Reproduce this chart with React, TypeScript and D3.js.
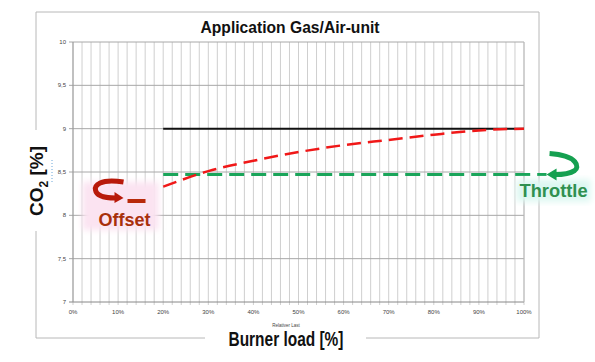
import React from 'react';
import * as d3 from 'd3';

// burner load [%] and CO2 [%]
const xTicks = [0, 10, 20, 30, 40, 50, 60, 70, 80, 90, 100];
const yTicks = [7, 7.5, 8, 8.5, 9, 9.5, 10];
const yTickLabels = ['7', '7,5', '8', '8,5', '9', '9,5', '10'];

const referenceLoad = [20, 100];
const referenceCO2 = [9.0, 9.0];

const offsetLoad = [20, 30, 40, 50, 60, 70, 80, 90, 100];
const offsetCO2 = [8.33, 8.51, 8.63, 8.73, 8.81, 8.87, 8.93, 8.98, 9.0];

const throttleLoad = [20, 105];
const throttleCO2 = [8.47, 8.47];

const W = 595;
const H = 362;

export default function App() {
  const x = d3.scaleLinear().domain([0, 100]).range([73, 524]);
  const y = d3.scaleLinear().domain([7, 10]).range([302, 42]);

  const minorX = d3.range(0, 101, 2);
  const line = d3.line<[number, number]>()
    .x(d => x(d[0]))
    .y(d => y(d[1]));
  const curve = d3.line<[number, number]>()
    .x(d => x(d[0]))
    .y(d => y(d[1]))
    .curve(d3.curveMonotoneX);

  const pair = (a: number[], b: number[]) => a.map((v, i) => [v, b[i]] as [number, number]);

  const font = 'Arial, "Liberation Sans", sans-serif';

  // annotation anchors from the scales
  const ox = x(1);
  const oy = y(8.35);
  const tx = x(105);
  const ty = y(8.47);

  return (
    <svg width={W} height={H} style={{ position: 'absolute', left: 0, top: 0, background: '#fff' }}>
      <defs>
        <filter id="soft" x="-20%" y="-20%" width="140%" height="140%">
          <feGaussianBlur stdDeviation="3" />
        </filter>
      </defs>
      <rect width={W} height={H} fill="#fff" />

      {/* outer frame, broken by the axis titles */}
      <path
        d="M36,130 V12 H539 V338 H366 M205,338 H36 V231"
        fill="none" stroke="#b8b8b8" strokeWidth={1}
      />

      {/* vertical grid */}
      {minorX.map(v => (
        <line key={'vx' + v} x1={x(v)} x2={x(v)} y1={y(10)} y2={y(7) + 3}
          stroke="#cfcfcf" strokeWidth={1} />
      ))}
      {/* horizontal grid */}
      {yTicks.map(v => (
        <line key={'hy' + v} x1={x(0) - 4} x2={x(100)} y1={y(v)} y2={y(v)}
          stroke={v === 7 ? '#888' : '#a8a8a8'} strokeWidth={1} />
      ))}
      <line x1={x(0)} x2={x(0)} y1={y(10)} y2={y(7)} stroke="#999" />
      <line x1={x(100)} x2={x(100)} y1={y(10)} y2={y(7)} stroke="#bbb" />

      {/* tick labels */}
      {yTicks.map((v, i) => (
        <text key={'yl' + v} x={x(0) - 7} y={y(v) + 2} textAnchor="end"
          fontFamily={font} fontSize={6} fill="#444">{yTickLabels[i]}</text>
      ))}
      {xTicks.map(v => (
        <text key={'xl' + v} x={x(v)} y={y(7) + 12} textAnchor="middle"
          fontFamily={font} fontSize={6} fill="#444">{v}%</text>
      ))}

      {/* title */}
      <text x={290} y={33} textAnchor="middle" fontFamily={font} fontWeight="bold"
        fontSize={17} fill="#111" textLength={179} lengthAdjust="spacingAndGlyphs">
        Application Gas/Air-unit
      </text>

      {/* axis titles */}
      <text x={286} y={327} textAnchor="middle" fontFamily={font} fontSize={4.5} fill="#444">Relativer Last</text>
      <text x={286} y={346} textAnchor="middle" fontFamily={font} fontWeight="bold"
        fontSize={20} fill="#111" textLength={115} lengthAdjust="spacingAndGlyphs">
        Burner load [%]
      </text>
      <g transform="translate(43,181) rotate(-90)">
        <text x={0} y={0} textAnchor="middle" fontFamily={font} fontWeight="bold" fontSize={19} fill="#111">
          CO<tspan fontSize={12} dy={5}>2</tspan><tspan dy={-5}> [%]</tspan>
        </text>
      </g>
      <line x1={52} x2={52} y1={160} y2={183} stroke="#6aa6d8" strokeWidth={1} strokeDasharray="1,2" />

      {/* series */}
      <path d={line(pair(referenceLoad, referenceCO2)) || ''} fill="none" stroke="#111" strokeWidth={2} />
      <path d={line(pair(throttleLoad, throttleCO2)) || ''} fill="none" stroke="#1aa55a"
        strokeWidth={3} strokeDasharray="15,7" />
      <path d={curve(pair(offsetLoad, offsetCO2)) || ''} fill="none" stroke="#f01818"
        strokeWidth={2.5} strokeDasharray="14,7" />

      {/* Offset annotation */}
      <rect x={ox + 5} y={oy - 3} width={76} height={48} fill="#fbe3f1" filter="url(#soft)" />
      <path
        d={`M${ox + 46},${oy - 3} C${ox + 22},${oy - 7} ${ox + 17},${oy + 1} ${ox + 18},${oy + 5} C${ox + 19},${oy + 11} ${ox + 28},${oy + 13} ${ox + 38},${oy + 13}`}
        fill="none" stroke="#b81a0a" strokeWidth={5} />
      <path d={`M${ox + 37},${oy + 7} L${ox + 46},${oy + 13} L${ox + 37},${oy + 18} Z`} fill="#b81a0a" />
      <line x1={ox + 50} x2={ox + 68} y1={oy + 16} y2={oy + 16} stroke="#b82a0a" strokeWidth={4} />
      <text x={ox + 21} y={oy + 41} fontFamily={font} fontWeight="bold" fontSize={18} fill="#a8300c"
        textLength={52} lengthAdjust="spacingAndGlyphs">Offset</text>

      {/* Throttle annotation */}
      <rect x={tx - 30} y={ty + 5} width={74} height={22} fill="#dcf7f1" filter="url(#soft)" />
      <path
        d={`M${tx + 3},${ty - 21} C${tx + 32},${ty - 19} ${tx + 33},${ty - 7} ${tx + 28},${ty - 4} C${tx + 22},${ty} ${tx + 14},${ty} ${tx + 8},${ty}`}
        fill="none" stroke="#15a050" strokeWidth={5} />
      <path d={`M${tx + 10},${ty - 6} L${tx},${ty} L${tx + 10},${ty + 6} Z`} fill="#15a050" />
      <text x={tx - 27} y={ty + 22} fontFamily={font} fontWeight="bold" fontSize={18} fill="#2f9050"
        textLength={68} lengthAdjust="spacingAndGlyphs">Throttle</text>
    </svg>
  );
}
